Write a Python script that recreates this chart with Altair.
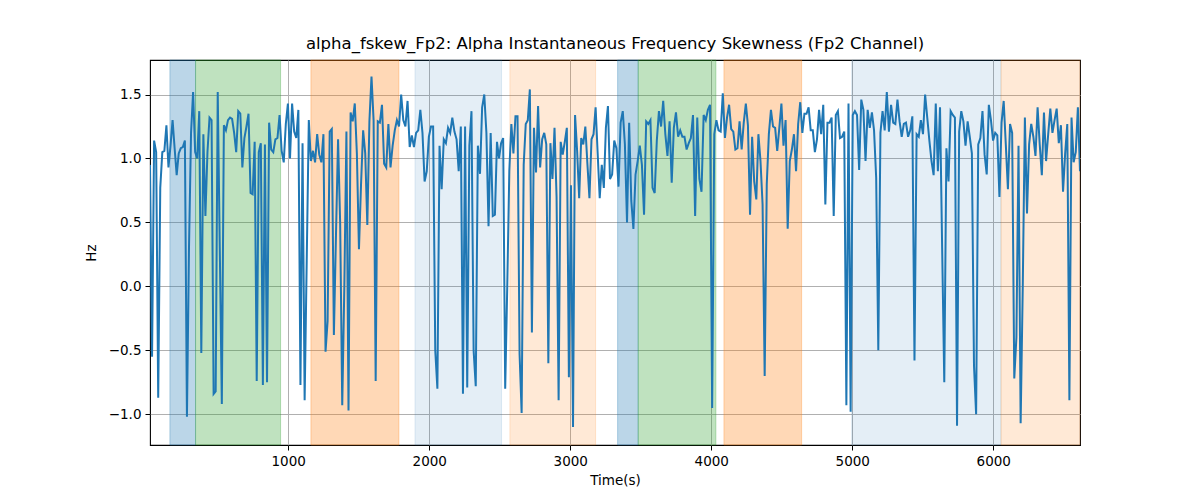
import altair as alt
import numpy as np
import pandas as pd

# segment boundaries (seconds) over which each value block is evenly sampled
seg_bounds = [20, 835, 1650, 2466, 3282, 4097, 4913, 5728, 6615]

seg1 = [0.95, -0.55, 1.14, 1.05, -0.87, 0.77, 1.05, 1.06, 1.26, 0.93, 1.1, 1.3, 1.08, 0.87, 1.04, 1.08,
        1.09, 1.14, -1.02, 0.3, 1.2, 1.52, 1.05, 1.0, 1.37, -0.52, 1.19, 0.55, 1.05, 1.32, 1.3,
        -0.84, -0.82, 1.52, 0.3, -0.92, 1.26, 1.22, 1.3, 1.32, 1.31, 1.2, 1.05, 1.37, 1.35, 0.93,
        1.16, 1.25, 1.35, 0.73, 0.72, 1.13, -0.74, 1.05, 1.12, -0.77]
seg2 = [1.11, -0.75, 1.28, 1.07, 1.05, 1.15, 1.16, 1.34, 1.06, 0.97, 1.27, 1.43, 1.0, 1.43, 1.21,
        1.16, 1.38, -0.77, 1.12, -0.89, 0.2, 1.3, 0.98, 1.06, 0.97, 1.19, 1.03, 0.97, 1.19, -0.51,
        -0.27, 1.21, 1.23, -0.38, 0.4, 1.15, 0.5, -0.93, 0.0, 1.21, -0.97, 1.36, 1.29, 1.43, 1.04,
        0.29, 0.8, 1.22, 1.04, 0.48, 1.29, 1.64, 1.3, -0.74, 1.29]
seg3 = [1.28, 1.42, 0.96, 0.93, 1.27, 0.93, 1.1, 1.22, 1.3, 1.25, 1.5, 1.3, 1.25, 1.45, 1.09,
        1.18, 1.09, 1.2, 1.22, 1.38, 1.2, 0.82, 0.9, 1.17, 1.25, 1.25, -0.5, -0.8, 1.1, 0.76,
        1.15, 1.12, 1.24, 1.2, 1.32, 1.21, 1.15, 0.9, 1.25, -0.84, 1.25, -0.79, 1.1, 1.37, -0.5,
        -0.78, 1.1, 0.88, 1.4, 1.5, 1.2, 0.47, 1.2, 0.55]
seg4 = [0.56, 1.13, 1.0, 1.12, 1.16, -0.8, 0.0, 0.9, 1.27, 1.04, 1.33, 1.33, -0.53, -0.99, 0.95,
        1.27, 1.3, 1.54, -0.36, 1.24, 0.89, 1.41, 0.93, 1.15, 1.2, 1.11, -0.6, 1.12, 0.84, 1.24,
        0.7, -0.89, 1.13, 1.03, 1.13, 1.24, -0.71, 0.79, -1.1, 1.34, 1.06, 0.69, 1.16, 1.11, 1.25,
        0.96, 0.69, 1.15, 1.19, 1.4, 1.04, 0.69, 0.95, 0.77, 1.24, 1.41]
seg5 = [0.84, 0.875, 1.14, 1.08, 0.78, 1.28, 1.37, 1.11, 0.5, 1.28, 0.67, 0.45, 0.875, 0.98, 1.1,
        0.95, 0.56, 1.29, 1.27, 1.3, 0.77, 0.73, 1.14, 1.37, 1.25, 1.45, 1.19, 1.02, 1.29, 0.81,
        1.24, 1.36, 1.17, 1.22, 1.17, 1.17, 1.07, 1.12, 1.16, 1.34, 0.55, 1.32, 0.84, 0.74, 1.34,
        1.3, 1.38, 1.42, -0.95, 1.19, 1.3, 1.22, 1.21, 1.51]
seg6 = [1.16, 1.32, 1.42, 1.23, 1.21, 1.07, 1.08, 1.29, 1.07, 1.28, 1.43, 1.26, 0.56, 1.17, 0.82,
        0.68, 1.19, 0.98, 0.64, -0.7, 0.8, 1.19, 1.38, 1.25, 1.24, 1.06, 1.24, 1.43, 1.1, 1.3,
        0.45, 0.98, 1.07, 1.19, 0.9, 1.27, 1.44, 1.2, 1.35, 1.35, 1.4, 1.22, 1.22, 1.05, 1.15,
        1.38, 1.19, 1.42, 0.64, 1.28, 1.28, 1.32, 0.55, 1.34, 1.37]
seg7 = [1.16, 1.17, 1.21, -0.93, 1.43, -0.98, 1.34, 1.37, 1.34, 0.91, 1.46, 1.38, 0.98, 1.38, 1.24,
        1.36, 1.22, 0.85, -0.5, 1.2, 1.37, 1.22, 1.52, 1.21, 1.42, 1.28, 1.27, 1.46, 1.29, 1.17,
        1.27, 1.28, 1.17, 1.22, 1.33, -0.58, 1.19, 1.17, 1.3, 1.19, 1.5, 1.32, 1.14, 0.98, 0.87,
        1.43, 0.9, 1.4, 0.3, -0.75, 1.08, 0.82, 1.37, 1.34]
seg8 = [1.32, -1.09, 1.21, 1.37, 1.29, 1.1, 1.29, 1.17, 1.04, -0.62, -1.0, 1.11, 1.16, 1.37, 1.03,
        0.875, 1.42, 1.3, 1.14, 1.2, 1.18, 0.7, 1.28, 1.45, 1.11, 0.76, 1.27, 1.2, -0.72, -0.4,
        1.1, -1.07, 0.0, 1.32, 0.57, 1.11, 1.27, 1.17, 1.02, 1.4, 1.11, 0.87, 1.36, 0.98, 1.19,
        1.39, 1.2, 1.3, 1.39, 1.12, 1.26, 0.74, 1.04, 1.27, -0.89, 1.32, 0.97, 1.05, 1.4, 0.9]

segments = [seg1, seg2, seg3, seg4, seg5, seg6, seg7, seg8]

span_start = [161, 343, 1161, 1899, 2572, 3336, 3482, 4090, 4996, 6055]
span_end = [343, 946, 1785, 2513, 3180, 3482, 4033, 4641, 6055, 6615]
span_kind = ["blue", "green", "orange", "lightblue", "lightorange",
             "blue", "green", "orange", "lightblue", "lightorange"]

kind_fill = {
    "blue": "rgba(31,119,180,0.3)",
    "green": "rgba(44,160,44,0.3)",
    "orange": "rgba(255,127,14,0.3)",
    "lightblue": "rgba(31,119,180,0.12)",
    "lightorange": "rgba(255,127,14,0.17)",
}

times, vals = [], []
for k, seg in enumerate(segments):
    last = k == len(segments) - 1
    ts = np.linspace(seg_bounds[k], seg_bounds[k + 1], len(seg), endpoint=last)
    times.extend(ts.tolist())
    vals.extend(seg)

line_df = pd.DataFrame({"t": times, "v": vals})
span_df = pd.DataFrame({
    "t": span_start, "t2": span_end, "kind": span_kind,
    "fill": [kind_fill[k] for k in span_kind],
})

FONT = "DejaVu Sans"
xscale = alt.Scale(domain=[20, 6615], nice=False, zero=False)
yscale = alt.Scale(domain=[-1.24, 1.77], nice=False, zero=False)
xaxis = alt.Axis(title="Time(s)", values=[1000, 2000, 3000, 4000, 5000, 6000], format="d")
yaxis = alt.Axis(title="Hz", values=[-1.0, -0.5, 0.0, 0.5, 1.0, 1.5], format=".1f")

spans = alt.Chart(span_df).mark_rect(strokeWidth=1).encode(
    x=alt.X("t:Q", scale=xscale, axis=xaxis),
    x2="t2:Q",
    fill=alt.Fill("fill:N", scale=None),
    stroke=alt.Stroke("fill:N", scale=None),
)

line = alt.Chart(line_df).mark_line(color="#1f77b4", strokeWidth=2, clip=True).encode(
    x=alt.X("t:Q", scale=xscale, axis=xaxis),
    y=alt.Y("v:Q", scale=yscale, axis=yaxis),
)

chart = alt.layer(spans, line).properties(
    width=930,
    height=385,
    title=alt.TitleParams(
        "alpha_fskew_Fp2: Alpha Instantaneous Frequency Skewness (Fp2 Channel)",
        font=FONT, fontSize=16.5, fontWeight="normal", color="black", anchor="middle", offset=7,
    ),
    autosize=alt.AutoSizeParams(type="none"),
    padding={"left": 142, "top": 52, "right": 112, "bottom": 47},
).configure_view(
    stroke="black", strokeWidth=1.1
).configure_axis(
    domain=False,
    grid=True, gridColor="#b0b0b0", gridWidth=1,
    tickColor="black", tickSize=5, tickWidth=1,
    labelFont=FONT, labelFontSize=13.5, labelColor="black", labelPadding=4,
    titleFont=FONT, titleFontSize=13.5, titleFontWeight="normal", titleColor="black",
).configure_axisX(
    titlePadding=6
).configure_axisY(
    titlePadding=10
)

chart.save("out.html", embed_options={"renderer": "svg", "actions": False})
